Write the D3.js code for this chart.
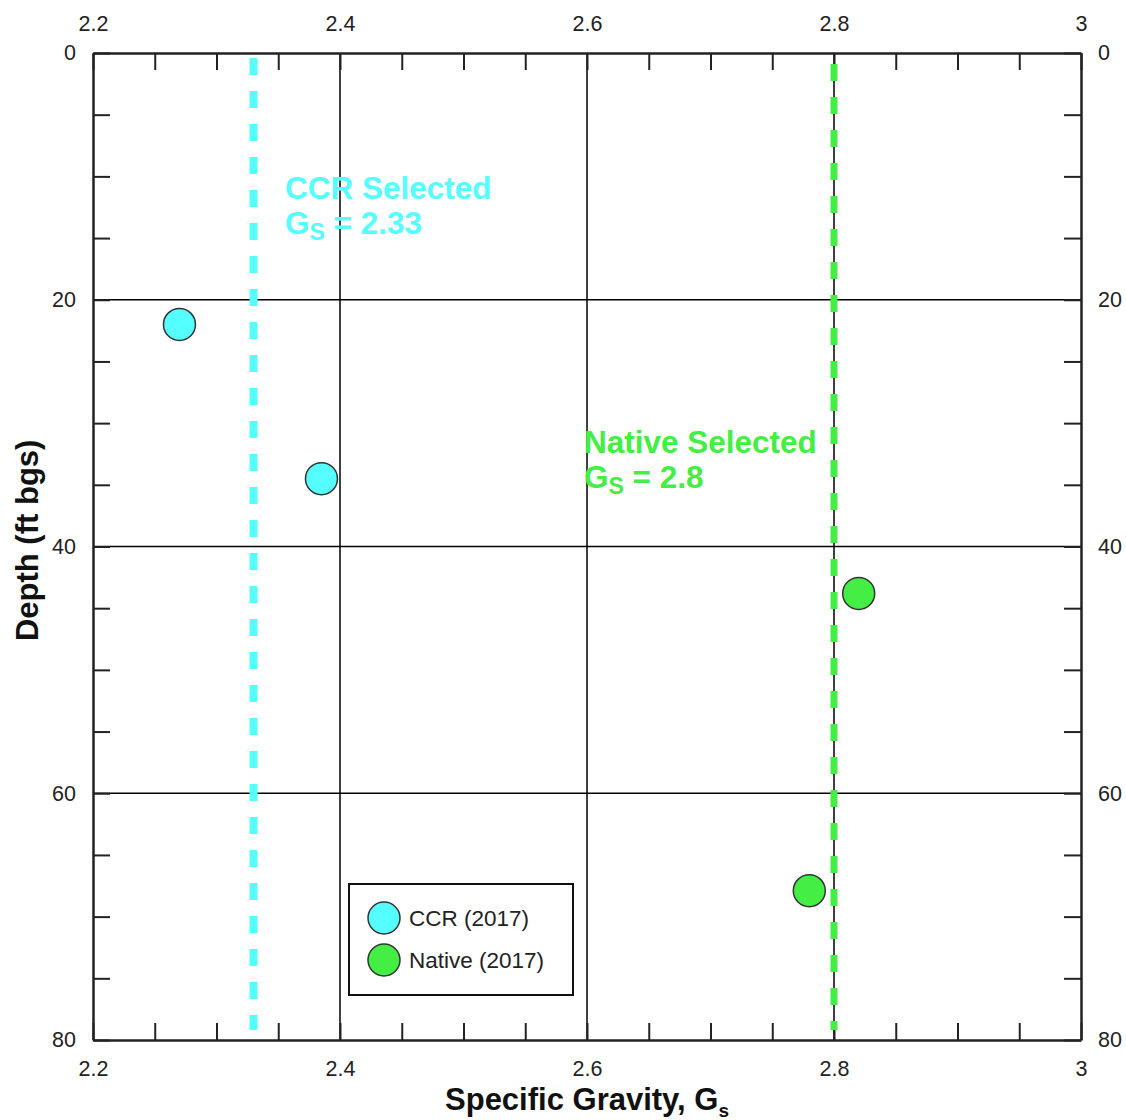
<!DOCTYPE html>
<html>
<head>
<meta charset="utf-8">
<script src="https://cdn.jsdelivr.net/npm/d3@7"></script>
<style>
  html, body { margin: 0; padding: 0; background: #fff; }
  svg { display: block; font-family: Arial, "Liberation Sans", sans-serif; }
</style>
</head>
<body>
<svg id="chart" width="1126" height="1120"></svg>
<script>
// Specific gravity test results by depth
const ccrGs = [2.27, 2.385];
const ccrDepth = [22, 34.5];
const nativeGs = [2.82, 2.78];
const nativeDepth = [43.8, 67.9];

// Selected design values
const selectedNames = ["CCR", "Native"];
const selectedGs = [2.33, 2.8];

const xTicks = [2.2, 2.4, 2.6, 2.8, 3];
const yTicks = [0, 20, 40, 60, 80];
const legendLabels = ["CCR (2017)", "Native (2017)"];

const ccrColor = "#55FFFF";
const nativeColor = "#44EE44";
const axisColor = "#222";

const svg = d3.select("#chart");
const m = { left: 93, right: 1081, top: 53, bottom: 1040 };

const x = d3.scaleLinear().domain([2.2, 3]).range([m.left, m.right]);
const y = d3.scaleLinear().domain([0, 80]).range([m.top, m.bottom]);

// Major grid lines
const grid = svg.append("g");
grid.selectAll("line.gx").data(xTicks.slice(1, -1)).join("line")
  .attr("x1", d => x(d)).attr("x2", d => x(d))
  .attr("y1", m.top).attr("y2", m.bottom)
  .attr("stroke", "#000").attr("stroke-width", 1.5);
grid.selectAll("line.gy").data(yTicks.slice(1, -1)).join("line")
  .attr("y1", d => y(d)).attr("y2", d => y(d))
  .attr("x1", m.left).attr("x2", m.right)
  .attr("stroke", "#000").attr("stroke-width", 1.5);

// Axes on all four sides, ticks pointing inward
const minorX = d3.range(2.2, 3.0001, 0.05);
const minorY = d3.range(0, 80.001, 5);
const tickLen = 17;

function styleAxis(g) {
  g.select(".domain").attr("stroke", axisColor).attr("stroke-width", 2.5);
  g.selectAll(".tick line").attr("stroke", axisColor).attr("stroke-width", 2);
  g.selectAll(".tick text").attr("fill", "#222").style("font-size", "21.5px")
    .style("font-family", "Arial, 'Liberation Sans', sans-serif");
}

const fmt = d => d3.format("~g")(d);

// Bottom: minor ticks then labels
svg.append("g").attr("transform", `translate(0,${m.bottom})`)
  .call(d3.axisBottom(x).tickValues(minorX).tickSize(-tickLen).tickSizeOuter(0).tickFormat(""))
  .call(styleAxis);
svg.append("g").attr("transform", `translate(0,${m.bottom})`)
  .call(d3.axisBottom(x).tickValues(xTicks).tickSize(0).tickFormat(fmt).tickPadding(21))
  .call(g => g.select(".domain").remove())
  .call(styleAxis);

// Top
svg.append("g").attr("transform", `translate(0,${m.top})`)
  .call(d3.axisTop(x).tickValues(minorX).tickSize(-tickLen).tickSizeOuter(0).tickFormat(""))
  .call(styleAxis);
svg.append("g").attr("transform", `translate(0,${m.top})`)
  .call(d3.axisTop(x).tickValues(xTicks).tickSize(0).tickFormat(fmt).tickPadding(22))
  .call(g => g.select(".domain").remove())
  .call(styleAxis);

// Left
svg.append("g").attr("transform", `translate(${m.left},0)`)
  .call(d3.axisLeft(y).tickValues(minorY).tickSize(-tickLen).tickSizeOuter(0).tickFormat(""))
  .call(styleAxis);
svg.append("g").attr("transform", `translate(${m.left},0)`)
  .call(d3.axisLeft(y).tickValues(yTicks).tickSize(0).tickFormat(fmt).tickPadding(17))
  .call(g => g.select(".domain").remove())
  .call(styleAxis);

// Right
svg.append("g").attr("transform", `translate(${m.right},0)`)
  .call(d3.axisRight(y).tickValues(minorY).tickSize(-tickLen).tickSizeOuter(0).tickFormat(""))
  .call(styleAxis);
svg.append("g").attr("transform", `translate(${m.right},0)`)
  .call(d3.axisRight(y).tickValues(yTicks).tickSize(0).tickFormat(fmt).tickPadding(17))
  .call(g => g.select(".domain").remove())
  .call(styleAxis);

// Selected value lines (dashed)
const selColors = [ccrColor, nativeColor];
const selWidths = [8, 7];
const selStart = [58, 64];
svg.append("g").selectAll("line").data(selectedGs).join("line")
  .attr("x1", d => x(d)).attr("x2", d => x(d))
  .attr("y1", (d, i) => selStart[i]).attr("y2", m.bottom - 10)
  .attr("stroke", (d, i) => selColors[i])
  .attr("stroke-width", (d, i) => selWidths[i])
  .attr("stroke-dasharray", "17 16")
  .attr("stroke-linecap", "butt");

// Selected value annotations
function annotate(gx, gy, name, value, color) {
  const t = svg.append("text").attr("x", gx).attr("y", gy)
    .attr("fill", color).style("font-size", "31.5px").style("font-weight", "bold");
  t.append("tspan").attr("x", gx).text(`${name} Selected`);
  t.append("tspan").attr("x", gx).attr("dy", 35).text("G");
  t.append("tspan").attr("dy", 6).style("font-size", "23px").text("S");
  t.append("tspan").attr("dy", -6).text(` = ${value}`);
}
annotate(285, 199, selectedNames[0], selectedGs[0], ccrColor);
annotate(584, 453, selectedNames[1], selectedGs[1], nativeColor);

// Data points
const pts = svg.append("g");
pts.selectAll("circle.ccr").data(d3.zip(ccrGs, ccrDepth)).join("circle")
  .attr("cx", d => x(d[0])).attr("cy", d => y(d[1])).attr("r", 16)
  .attr("fill", ccrColor).attr("stroke", "#333").attr("stroke-width", 1.5);
pts.selectAll("circle.nat").data(d3.zip(nativeGs, nativeDepth)).join("circle")
  .attr("cx", d => x(d[0])).attr("cy", d => y(d[1])).attr("r", 16)
  .attr("fill", nativeColor).attr("stroke", "#333").attr("stroke-width", 1.5);

// Legend
const lg = svg.append("g").attr("transform", "translate(349,884)");
lg.append("rect").attr("width", 224).attr("height", 111)
  .attr("fill", "#fff").attr("stroke", "#111").attr("stroke-width", 2);
const legendColors = [ccrColor, nativeColor];
legendLabels.forEach((lab, i) => {
  const row = lg.append("g").attr("transform", `translate(35,${34 + i * 42})`);
  row.append("circle").attr("r", 16).attr("fill", legendColors[i])
    .attr("stroke", "#333").attr("stroke-width", 1.5);
  row.append("text").attr("x", 25).attr("dy", "0.35em")
    .style("font-size", "22.5px").attr("fill", "#222").text(lab);
});

// Axis titles
const xt = svg.append("text").attr("x", x(2.6)).attr("y", 1110)
  .attr("text-anchor", "middle").style("font-size", "31px").style("font-weight", "bold")
  .attr("fill", "#111");
xt.append("tspan").text("Specific Gravity, G");
xt.append("tspan").attr("dy", 7).style("font-size", "19px").text("s");

svg.append("text")
  .attr("transform", `translate(38,${y(39.5)}) rotate(-90)`)
  .attr("text-anchor", "middle").style("font-size", "31px").style("font-weight", "bold")
  .attr("fill", "#111").text("Depth (ft bgs)");
</script>
</body>
</html>
